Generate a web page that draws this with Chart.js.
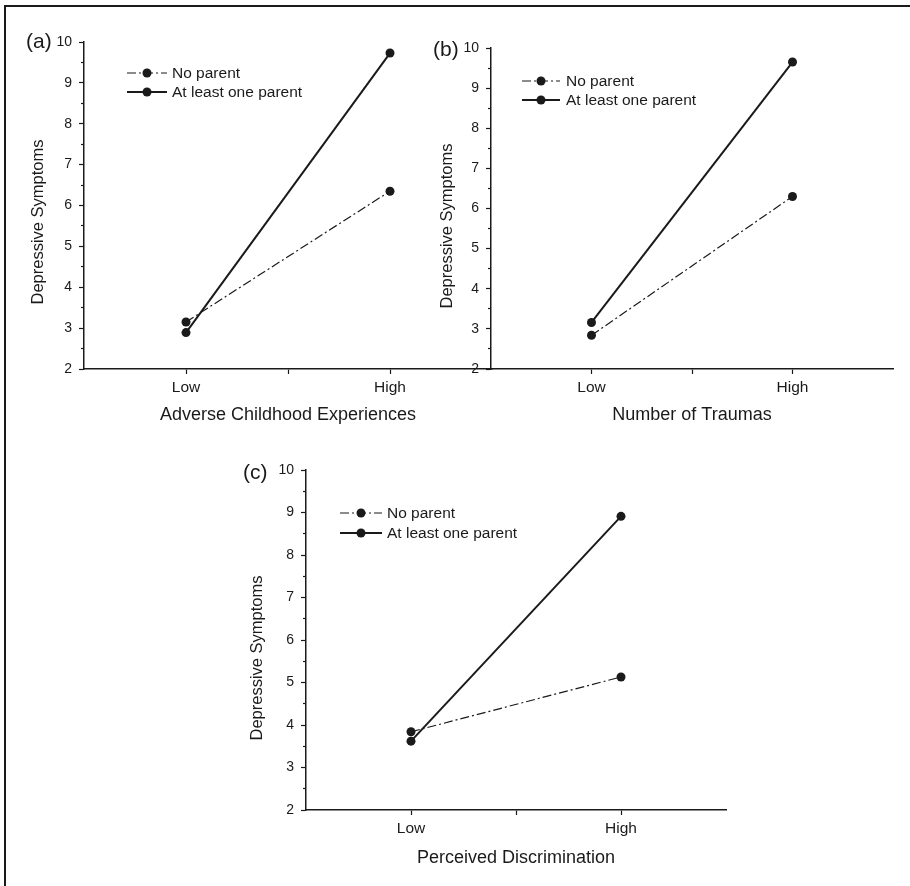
<!DOCTYPE html>
<html>
<head>
<meta charset="utf-8">
<title>Depressive symptoms by parent presence</title>
<script src="https://cdn.jsdelivr.net/npm/chart.js@4.4.0/dist/chart.umd.min.js"></script>
<style>
  html, body { margin: 0; padding: 0; background: #fff; }
  #page { position: relative; width: 910px; height: 886px; overflow: hidden; background: #fff; }
  #frame { position: absolute; left: 4px; top: 5px; width: 906px; height: 881px;
           border-top: 2px solid #1a1a1a; border-left: 2px solid #1a1a1a; box-sizing: border-box; }
  canvas { position: absolute; }
</style>
</head>
<body>
<div id="page">
  <div id="frame"></div>
  <canvas id="panelA" width="500" height="430" style="left:0px;top:0px;"></canvas>
  <canvas id="panelB" width="490" height="430" style="left:420px;top:0px;"></canvas>
  <canvas id="panelC" width="520" height="446" style="left:220px;top:440px;"></canvas>
</div>
<script>
// --- DATA ---
const categories = ['Low', 'High'];
const categoryPos = [1, 3];           // positions of Low / High on the x scale (0..4)
const seriesNames = ['No parent', 'At least one parent'];
const yTicks = [2, 3, 4, 5, 6, 7, 8, 9, 10];
const yMinorTicks = [2.5, 3.5, 4.5, 5.5, 6.5, 7.5, 8.5, 9.5];

// (a) Adverse Childhood Experiences
const noParentA = [3.15, 6.35];
const oneParentA = [2.89, 9.73];
// (b) Number of Traumas
const noParentB = [2.84, 6.30];
const oneParentB = [3.16, 9.65];
// (c) Perceived Discrimination
const noParentC = [3.84, 5.13];
const oneParentC = [3.62, 8.91];

const xTitles = ['Adverse Childhood Experiences', 'Number of Traumas', 'Perceived Discrimination'];
const yTitle = 'Depressive Symptoms';

// --- STYLE ---
const INK = '#1a1a1a';
const FONT = '"Liberation Sans", Arial, Helvetica, sans-serif';
const DASH_DOT = [9, 3, 2, 3];

// draws panel letter, rotated y title and the line+marker legend
const panelDecor = {
    id: 'panelDecor',
    afterDraw(chart, args, opts) {
        const { ctx, chartArea } = chart;
        ctx.save();
        ctx.fillStyle = INK;
        ctx.strokeStyle = INK;

        ctx.font = '21px ' + FONT;
        ctx.textAlign = 'left';
        ctx.textBaseline = 'middle';
        ctx.fillText(opts.label, opts.labelX, opts.labelY);

        ctx.save();
        ctx.translate(opts.yTitleX, opts.yTitleY);
        ctx.rotate(-Math.PI / 2);
        ctx.font = '16.5px ' + FONT;
        ctx.textAlign = 'center';
        ctx.fillText(yTitle, 0, 0);
        ctx.restore();

        ctx.font = '15.5px ' + FONT;
        chart.data.datasets.forEach((ds, i) => {
            const y = chartArea.top + opts.legendRows[i];
            const x1 = chartArea.left + opts.legendX[0];
            const x2 = chartArea.left + opts.legendX[1];
            ctx.beginPath();
            ctx.setLineDash(ds.borderDash || []);
            ctx.lineWidth = ds.borderWidth;
            ctx.moveTo(x1, y);
            ctx.lineTo(x2, y);
            ctx.stroke();
            ctx.setLineDash([]);
            ctx.beginPath();
            ctx.arc((x1 + x2) / 2, y, 4.5, 0, Math.PI * 2);
            ctx.fill();
            ctx.fillText(ds.label, x2 + opts.legendGap, y + 1);
        });
        ctx.restore();
    }
};

function makeSeries(values) {
    return values.map((v, i) => ({ x: categoryPos[i], y: v }));
}

function makePanel(canvasId, noParent, oneParent, xTitle, p) {
    return new Chart(document.getElementById(canvasId), {
        type: 'line',
        data: {
            datasets: [
                {
                    label: seriesNames[0], data: makeSeries(noParent),
                    borderColor: INK, borderWidth: 1.2, borderDash: DASH_DOT,
                    pointRadius: 4.5, pointBackgroundColor: INK, pointBorderWidth: 0,
                    yAxisID: 'y'
                },
                {
                    label: seriesNames[1], data: makeSeries(oneParent),
                    borderColor: INK, borderWidth: 2,
                    pointRadius: 4.5, pointBackgroundColor: INK, pointBorderWidth: 0,
                    yAxisID: 'y'
                }
            ]
        },
        options: {
            responsive: false,
            animation: false,
            devicePixelRatio: 1,
            layout: { padding: p.padding },
            plugins: {
                legend: { display: false },
                tooltip: { enabled: false },
                panelDecor: p.decor
            },
            scales: {
                x: {
                    type: 'linear', position: 'bottom', min: 0, max: 4,
                    afterBuildTicks: s => { s.ticks = [1, 2, 3].map(v => ({ value: v })); },
                    afterFit: s => { s.height = 60; },
                    ticks: {
                        autoSkip: false, maxRotation: 0, padding: 4, color: INK,
                        font: { family: FONT, size: 15.5 },
                        callback: v => { const i = categoryPos.indexOf(v); return i >= 0 ? categories[i] : ''; }
                    },
                    grid: { drawOnChartArea: false, drawTicks: true, tickLength: 5, color: INK, tickWidth: 1.2 },
                    border: { display: true, color: INK, width: 1.5 },
                    title: {
                        display: true, text: xTitle, color: INK,
                        font: { family: FONT, size: 18 }, padding: { top: 0, bottom: p.xTitlePad }
                    }
                },
                y: {
                    position: 'left', min: 2, max: 10, weight: 1,
                    afterBuildTicks: s => { s.ticks = yTicks.map(v => ({ value: v })); },
                    afterFit: s => { s.width = p.yWidth; },
                    ticks: { padding: 7, color: INK, font: { family: FONT, size: 14 } },
                    grid: { drawOnChartArea: false, drawTicks: true, tickLength: 5, color: INK, tickWidth: 1.2 },
                    border: { display: true, color: INK, width: 1.5 }
                },
                yMinor: {
                    position: 'left', min: 2, max: 10, weight: 0,
                    afterBuildTicks: s => { s.ticks = yMinorTicks.map(v => ({ value: v })); },
                    afterFit: s => { s.width = 0; },
                    ticks: { display: false },
                    grid: { drawOnChartArea: false, drawTicks: true, tickLength: 3, color: INK, tickWidth: 1.2 },
                    border: { display: false }
                }
            }
        },
        plugins: [panelDecor]
    });
}

makePanel('panelA', noParentA, oneParentA, xTitles[0], {
    padding: { left: 0, top: 42, right: 8, bottom: 1 },
    yWidth: 84, xTitlePad: 3,
    decor: { label: '(a)', labelX: 26, labelY: 42, yTitleX: 38, yTitleY: 222,
             legendX: [43, 83], legendRows: [31, 50], legendGap: 5 }
});

makePanel('panelB', noParentB, oneParentB, xTitles[1], {
    padding: { left: 0, top: 48, right: 17, bottom: 1 },
    yWidth: 71, xTitlePad: 3,
    decor: { label: '(b)', labelX: 13, labelY: 50, yTitleX: 27, yTitleY: 226,
             legendX: [31, 69], legendRows: [33, 52], legendGap: 6 }
});

makePanel('panelC', noParentC, oneParentC, xTitles[2], {
    padding: { left: 0, top: 30, right: 14, bottom: 16 },
    yWidth: 86, xTitlePad: 1,
    decor: { label: '(c)', labelX: 23, labelY: 33, yTitleX: 37, yTitleY: 218,
             legendX: [34, 76], legendRows: [43, 63], legendGap: 5 }
});
</script>
</body>
</html>
